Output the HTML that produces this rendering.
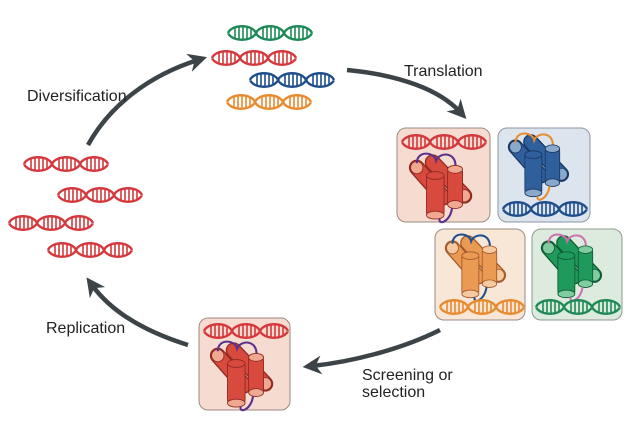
<!DOCTYPE html>
<html><head><meta charset="utf-8"><style>
body{margin:0;background:#fff;}
svg{display:block}
text{font-family:"Liberation Sans",sans-serif;font-size:16px;fill:#222}
</style></head><body>
<svg width="640" height="427" viewBox="0 0 640 427" xmlns="http://www.w3.org/2000/svg">
<defs>
<g id="dna" fill="none" stroke-width="2.4">
 <path d="M0,8 C4,-1 24,-1 28,8 C32,17 52,17 56,8 C60,-1 80,-1 84,8 M0,8 C4,17 24,17 28,8 C32,-1 52,-1 56,8 C60,17 80,17 84,8"/>
 <path stroke-width="1.6" d="M7,3v10M11,2v12M15,2v12M19,2v12M23,3v10M35,3v10M39,2v12M43,2v12M47,2v12M51,3v10M63,3v10M67,2v12M71,2v12M75,2v12M79,3v10"/>
</g>
<g id="prot">
 <line x1="10" y1="20" x2="40" y2="54" stroke="var(--s)" stroke-width="18" stroke-linecap="round"/>
 <line x1="10" y1="20" x2="40" y2="54" stroke="var(--f)" stroke-width="15" stroke-linecap="round"/>
 <ellipse cx="10" cy="20" rx="7" ry="7" fill="var(--e)" stroke="var(--s)"/>
 <line x1="28" y1="14" x2="64" y2="52" stroke="var(--s)" stroke-width="18" stroke-linecap="round"/>
 <line x1="28" y1="14" x2="64" y2="52" stroke="var(--f)" stroke-width="15" stroke-linecap="round"/>
 <ellipse cx="64" cy="52" rx="7" ry="7" fill="var(--e)" stroke="var(--s)"/>
 <path d="M10,15 C10,0 30,2 32,12 C36,2 54,2 54,18" fill="none" stroke="var(--l)" stroke-width="2.4"/>
 <rect x="21" y="28" width="20" height="46" rx="3" fill="var(--f)" stroke="var(--s)"/>
 <ellipse cx="31" cy="74" rx="10" ry="4.5" fill="var(--e)" stroke="var(--s)"/>
 <ellipse cx="31" cy="29" rx="10" ry="4.5" fill="var(--f)" stroke="var(--s)"/>
 <rect x="45" y="22" width="17" height="40" rx="3" fill="var(--f)" stroke="var(--s)"/>
 <ellipse cx="53.5" cy="22" rx="8.5" ry="4.5" fill="var(--e)" stroke="var(--s)"/>
 <ellipse cx="53.5" cy="62" rx="8.5" ry="4.5" fill="var(--e)" stroke="var(--s)"/>
 <path d="M50,66 C48,82 34,86 36,78" fill="none" stroke="var(--l)" stroke-width="2.4"/>
</g>
<marker id="ah" viewBox="0 0 10 10" refX="5" refY="5" markerWidth="4.2" markerHeight="4.2" orient="auto"><path d="M0,0 L10,5 L0,10 L3,5z" fill="#3d4448"/></marker>
</defs>

<g fill="none" stroke="#3d4448" stroke-width="4.5">
 <path d="M347,70 C400,75 440,90 460,112" marker-end="url(#ah)"/>
 <path d="M88,145 C110,105 150,75 198,60" marker-end="url(#ah)"/>
 <path d="M440,330 C400,350 350,362 312,366" marker-end="url(#ah)"/>
 <path d="M188,345 C140,330 110,310 92,285" marker-end="url(#ah)"/>
</g>

<use href="#dna" x="228" y="25" stroke="#1e8a57"/>
<use href="#dna" x="212" y="50" stroke="#d5383c"/>
<use href="#dna" x="250" y="72" stroke="#1f4e8c"/>
<use href="#dna" x="227" y="94" stroke="#e88a2e"/>
<use href="#dna" x="24" y="156" stroke="#d5383c"/>
<use href="#dna" x="58" y="187" stroke="#d5383c"/>
<use href="#dna" x="9" y="215" stroke="#d5383c"/>
<use href="#dna" x="48" y="242" stroke="#d5383c"/>

<rect x="397" y="128" width="93" height="94" rx="9" fill="#f6dcd0" stroke="#9a8a80"/>
<use href="#dna" x="402" y="134" stroke="#d5383c"/>
<use href="#prot" transform="translate(408,150) scale(0.88)" style="--f:#d8493e;--s:#8e2a22;--e:#f0a890;--l:#5b2f8e"/>

<rect x="498" y="128" width="92" height="94" rx="9" fill="#dce5ee" stroke="#8e96a0"/>
<use href="#prot" transform="translate(507,130) scale(0.85)" style="--f:#2f5f9c;--s:#1a3860;--e:#8aa7cc;--l:#e88a2e"/>
<use href="#dna" x="503" y="201" stroke="#1f4e8c"/>

<rect x="435" y="229" width="90" height="91" rx="9" fill="#f8e6d6" stroke="#9a8a80"/>
<use href="#prot" transform="translate(444,231) scale(0.85)" style="--f:#eb9a54;--s:#a0592a;--e:#f6c9a0;--l:#1f4e8c"/>
<use href="#dna" x="440" y="299" stroke="#e88a2e"/>

<rect x="532" y="229" width="90" height="91" rx="9" fill="#dcebdd" stroke="#8a9a8c"/>
<use href="#prot" transform="translate(540,231) scale(0.85)" style="--f:#1f9a5c;--s:#0f5a34;--e:#7fcca0;--l:#d070b0"/>
<use href="#dna" x="536" y="299" stroke="#1e8a57"/>

<rect x="199" y="318" width="91" height="92" rx="9" fill="#f6dcd0" stroke="#9a8a80"/>
<use href="#dna" x="204" y="323" stroke="#d5383c"/>
<use href="#prot" transform="translate(209,338) scale(0.88)" style="--f:#d8493e;--s:#8e2a22;--e:#f0a890;--l:#5b2f8e"/>

<text x="27" y="101">Diversification</text>
<text x="404" y="76">Translation</text>
<text x="46" y="333">Replication</text>
<text x="362" y="380">Screening or</text>
<text x="362" y="397">selection</text>
</svg>
</body></html>
